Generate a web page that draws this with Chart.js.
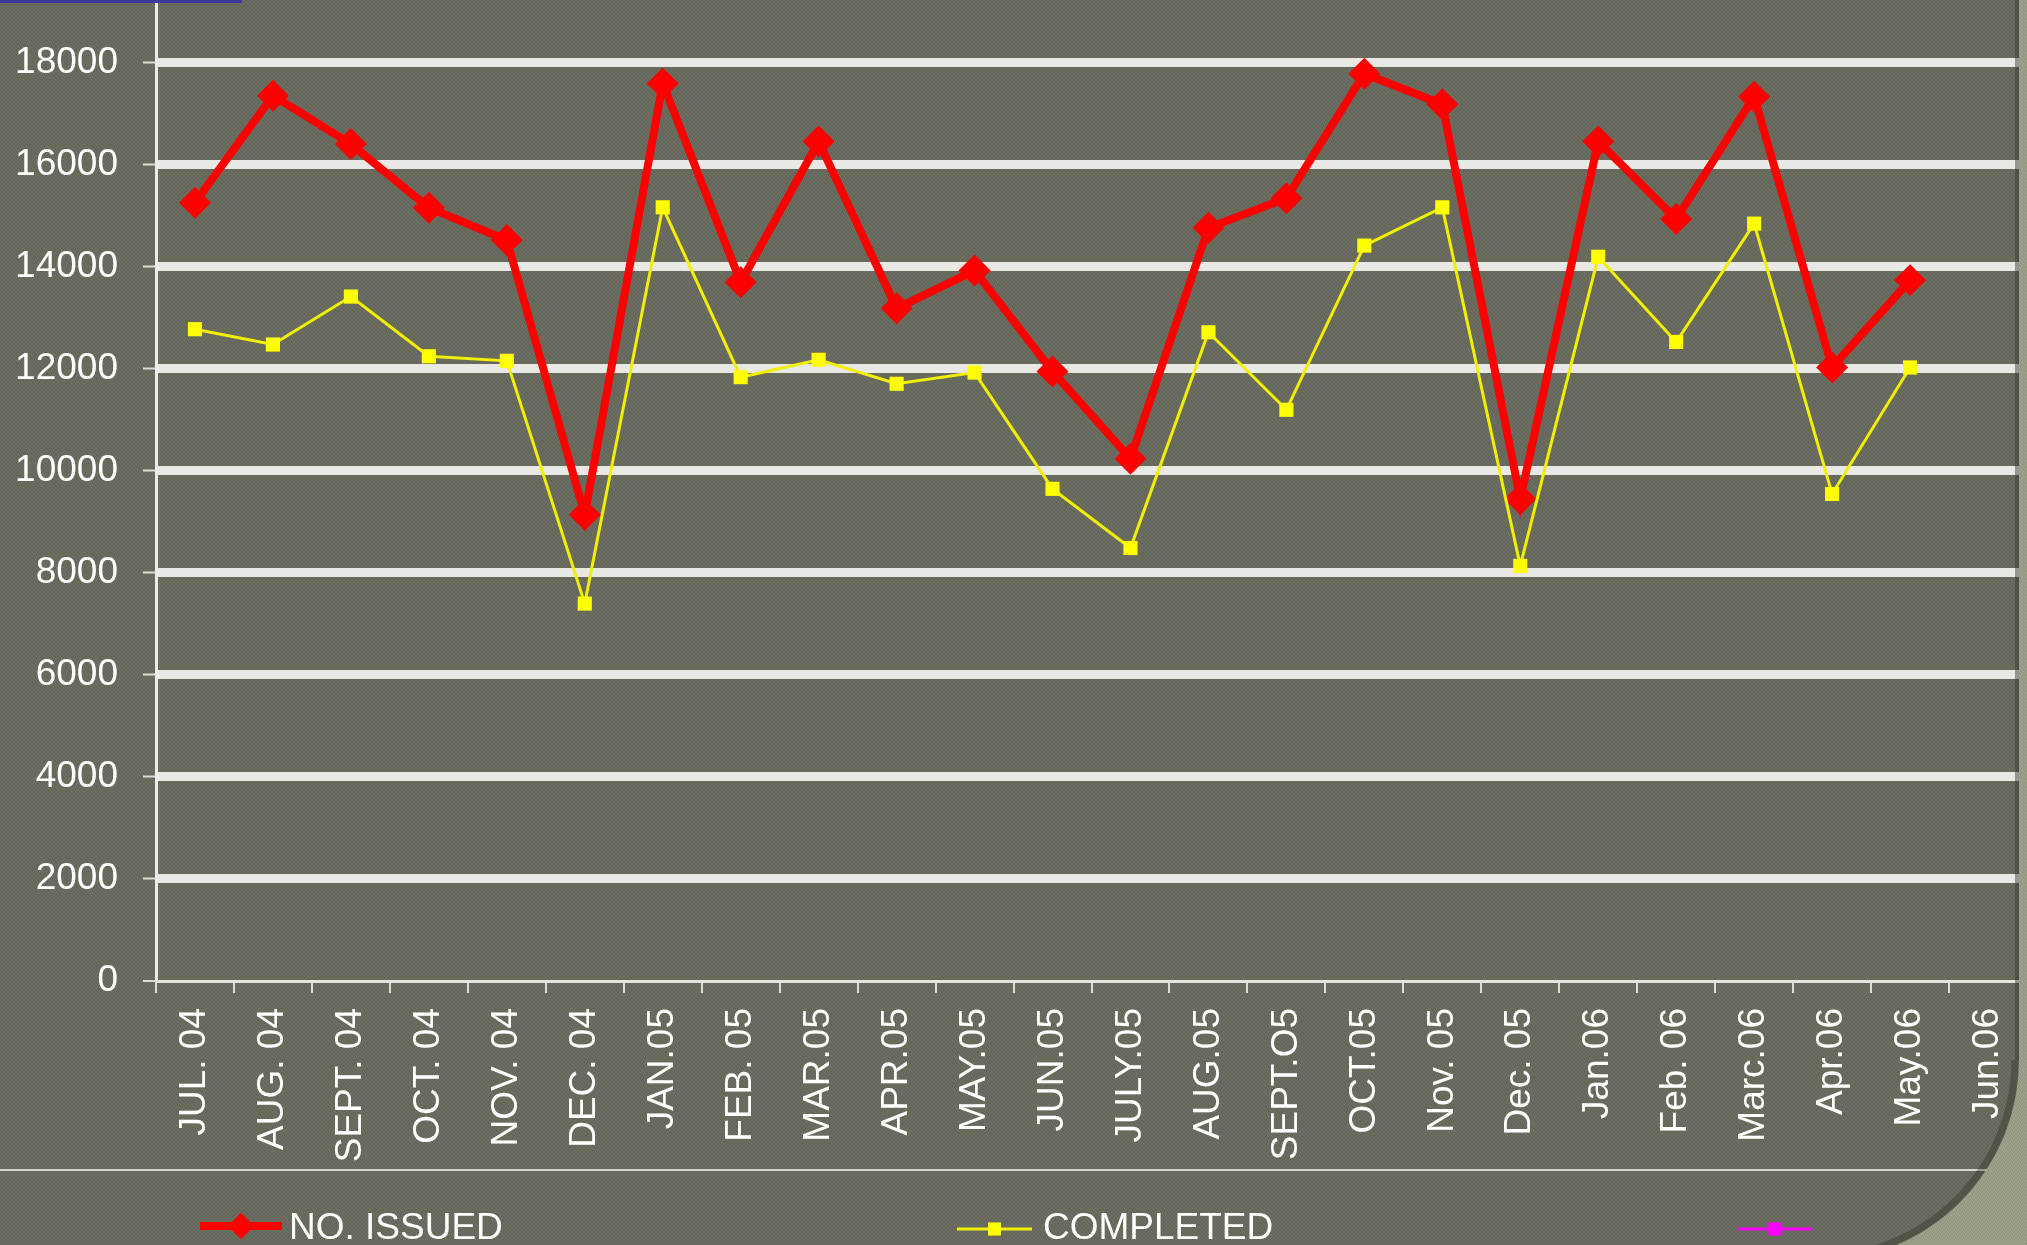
<!DOCTYPE html>
<html><head><meta charset="utf-8">
<script src="https://cdn.jsdelivr.net/npm/chart.js@4.4.1/dist/chart.umd.min.js"></script>
<style>
html,body{margin:0;padding:0;background:#696a5e;overflow:hidden}
canvas{display:block}
</style></head>
<body>
<canvas id="c" width="2027" height="1245"></canvas>
<script>
// ---- data ----
const categories = ['JUL. 04','AUG. 04','SEPT. 04','OCT. 04','NOV. 04','DEC. 04','JAN.05','FEB. 05','MAR.05','APR.05','MAY.05','JUN.05','JULY.05','AUG.05','SEPT.O5','OCT.05','Nov. 05','Dec. 05','Jan.06','Feb. 06','Marc.06','Apr.06','May.06','Jun.06'];
const issued    = [15260,17360,16410,15160,14530,9140,17600,13700,16460,13190,13930,11950,10240,14770,15350,17790,17190,9450,16460,14940,17340,12030,13740,null];
const completed = [12780,12480,13420,12250,12160,7400,15170,11840,12180,11710,11930,9650,8490,12720,11200,14420,15170,8140,14200,12530,14850,9550,12030,null];
const thirdSeries = [];
const seriesLabels = ['NO. ISSUED','COMPLETED',''];
const yTickValues = [0,2000,4000,6000,8000,10000,12000,14000,16000,18000];
const yMin = 0;
const yMax = 19235;

// ---- styling ----
const FONT = '"Liberation Sans", Arial, sans-serif';
const BG = '#696a5e';

function makePattern(ctx, base, lightC, darkC){
  const p = document.createElement('canvas');
  p.width = 4; p.height = 4;
  const pc = p.getContext('2d');
  pc.fillStyle = base; pc.fillRect(0,0,4,4);
  const light = [[0,0],[2,1],[1,2],[3,3]];
  const dark = [[1,0],[3,1],[0,2],[2,3]];
  pc.fillStyle = lightC; light.forEach(([x,y])=>pc.fillRect(x,y,1,1));
  pc.fillStyle = darkC; dark.forEach(([x,y])=>pc.fillRect(x,y,1,1));
  return ctx.createPattern(p,'repeat');
}

const backdrop = {
  id:'backdrop',
  beforeDraw(chart){
    const ctx = chart.ctx;
    ctx.save();
    ctx.fillStyle = makePattern(ctx, BG, '#707165', '#636458');
    ctx.fillRect(0,0,chart.width,chart.height);
    ctx.restore();
  },
  afterDraw(chart){
    const ctx = chart.ctx;
    ctx.save();
    // top-left blue bar
    ctx.fillStyle = '#3a3a9c';
    ctx.fillRect(0,0,242,3);
    // separator line under the axis labels
    ctx.fillStyle = '#d6d6cf';
    ctx.fillRect(0,1169,chart.width,2);
    // legend
    const items = [
      {ds:0, x0:200, x1:282, y:1226, tx:289, r:13},
      {ds:1, x0:957, x1:1032, y:1229, tx:1043, r:9},
      {ds:2, x0:1738, x1:1812, y:1229, tx:1818, r:9}
    ];
    items.forEach(it=>{
      const d = chart.data.datasets[it.ds];
      ctx.strokeStyle = d.borderColor;
      ctx.lineWidth = it.ds===0 ? 8 : 3;
      ctx.beginPath(); ctx.moveTo(it.x0,it.y); ctx.lineTo(it.x1,it.y); ctx.stroke();
      ctx.fillStyle = d.pointBackgroundColor;
      Chart.helpers.drawPoint(ctx,{pointStyle:d.pointStyle,radius:it.r,borderWidth:0,rotation:0},(it.x0+it.x1)/2,it.y);
      ctx.fill();
      if (d.label){
        ctx.fillStyle = '#ffffff';
        ctx.font = '37px ' + FONT;
        ctx.textBaseline = 'alphabetic';
        ctx.textAlign = 'left';
        ctx.fillText(d.label, it.tx, 1239);
      }
    });
    // slide edge and rounded corner
    const cx = 1818, cy = 1060, R = 201;
    ctx.fillStyle = 'rgba(50,50,42,0.45)';
    ctx.fillRect(2015,0,5,cy);
    ctx.fillStyle = makePattern(ctx, '#9b9b88', '#a3a390', '#93937f');
    ctx.fillRect(2019,0,8,cy);
    ctx.beginPath();
    ctx.moveTo(2027,cy);
    ctx.lineTo(cx+R,cy);
    ctx.arc(cx,cy,R,0,Math.PI/2);
    ctx.lineTo(2027,cy+R);
    ctx.closePath();
    ctx.fill();
    ctx.beginPath();
    ctx.arc(cx,cy,R-4,0,Math.PI/2);
    ctx.strokeStyle = 'rgba(40,40,30,0.35)';
    ctx.lineWidth = 7;
    ctx.stroke();
    ctx.restore();
  }
};

new Chart(document.getElementById('c'), {
  type:'line',
  data:{
    labels: categories,
    datasets:[
      {label:seriesLabels[0], data:issued, borderColor:'#ff0000', borderWidth:8, tension:0,
       pointStyle:'rectRot', pointRadius:16, pointBackgroundColor:'#ff0000', pointBorderColor:'#ff0000', pointBorderWidth:0, order:1},
      {label:seriesLabels[1], data:completed, borderColor:'#f0f000', borderWidth:3, tension:0,
       pointStyle:'rect', pointRadius:10, pointBackgroundColor:'#ffff00', pointBorderColor:'#ffff00', pointBorderWidth:0, order:0},
      {label:seriesLabels[2], data:thirdSeries, borderColor:'#ff00ff', borderWidth:3,
       pointStyle:'rect', pointRadius:9, pointBackgroundColor:'#ff00ff', pointBorderWidth:0, order:2}
    ]
  },
  options:{
    responsive:false,
    animation:false,
    devicePixelRatio:1,
    layout:{padding:0, autoPadding:false},
    plugins:{legend:{display:false}, title:{display:false}, tooltip:{enabled:false}},
    scales:{
      x:{
        type:'category',
        offset:true,
        grid:{offset:true, drawOnChartArea:false, drawTicks:true, tickLength:12, color:'#dcdcd6', lineWidth:2},
        border:{display:true, color:'#e4e4df', width:3},
        ticks:{color:'#ffffff', font:{family:FONT, size:37}, minRotation:90, maxRotation:90, autoSkip:false, padding:15},
        afterFit(s){ s.height = 264; s.paddingLeft = 0; s.paddingRight = 0; }
      },
      y:{
        min:yMin, max:yMax,
        afterBuildTicks(s){ s.ticks = yTickValues.map(v=>({value:v})); },
        grid:{
          color:'#e8e8e5',
          lineWidth:(c)=> (c.tick && c.tick.value===0) ? 0 : 9,
          drawTicks:true, tickLength:13, tickWidth:2, tickColor:'#dcdcd6'
        },
        border:{display:true, color:'#ececea', width:3},
        ticks:{color:'#ffffff', font:{family:FONT, size:37}, padding:25, callback:(v)=>String(v)},
        afterFit(s){ s.width = 156; s.paddingTop = 0; s.paddingBottom = 0; }
      }
    }
  },
  plugins:[backdrop]
});
</script>
</body></html>
